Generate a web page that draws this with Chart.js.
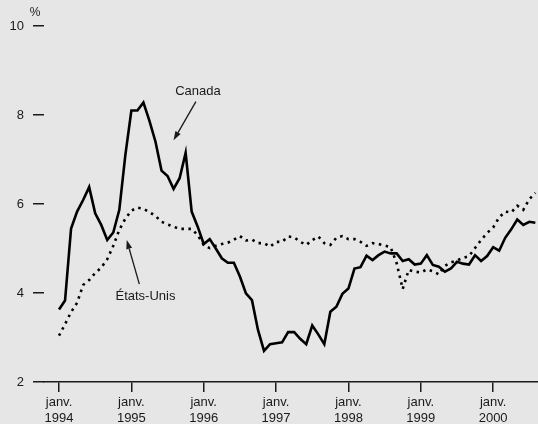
<!DOCTYPE html>
<html>
<head>
<meta charset="utf-8">
<script src="https://cdn.jsdelivr.net/npm/chart.js@4"></script>
<style>
    html, body { margin: 0; padding: 0; background: #e6e6e6; }
    #wrap { width: 538px; height: 424px; }
</style>
</head>
<body>
<div id="wrap"><canvas id="chart" width="538" height="424"></canvas></div>
<script>
// Monthly values, Jan 1994 .. Aug 2000 (%)
const canada = [
    3.63, 3.83, 5.45, 5.83, 6.09, 6.38, 5.79, 5.53, 5.19, 5.36, 5.87, 7.10,
    8.10, 8.10, 8.28, 7.87, 7.40, 6.75, 6.63, 6.34, 6.58, 7.15, 5.83, 5.49,
    5.10, 5.21, 5.00, 4.78, 4.68, 4.68, 4.37, 3.99, 3.84, 3.17, 2.70, 2.85,
    2.87, 2.89, 3.12, 3.12, 2.97, 2.85, 3.27, 3.07, 2.85, 3.58, 3.69, 3.98,
    4.10, 4.55, 4.58, 4.84, 4.74, 4.85, 4.93, 4.89, 4.89, 4.72, 4.76, 4.64,
    4.66, 4.85, 4.63, 4.59, 4.48, 4.55, 4.70, 4.66, 4.64, 4.85, 4.72, 4.83,
    5.03, 4.95, 5.24, 5.43, 5.65, 5.53, 5.60, 5.58
];
const etatsUnis = [
    3.04, 3.30, 3.57, 3.78, 4.18, 4.29, 4.45, 4.57, 4.76, 5.06, 5.42, 5.67,
    5.85, 5.92, 5.89, 5.82, 5.73, 5.60, 5.54, 5.49, 5.44, 5.44, 5.44, 5.30,
    5.08, 5.01, 5.06, 5.10, 5.13, 5.20, 5.28, 5.18, 5.20, 5.12, 5.12, 5.04,
    5.15, 5.15, 5.27, 5.25, 5.15, 5.08, 5.19, 5.27, 5.12, 5.08, 5.24, 5.28,
    5.21, 5.21, 5.15, 5.06, 5.12, 5.10, 5.07, 5.03, 4.67, 4.09, 4.52, 4.48,
    4.46, 4.53, 4.49, 4.42, 4.61, 4.69, 4.73, 4.79, 4.83, 5.01, 5.19, 5.35,
    5.47, 5.70, 5.83, 5.81, 5.96, 5.87, 6.11, 6.25
];
const tickYears = ['1994', '1995', '1996', '1997', '1998', '1999', '2000'];
const tickMonth = 'janv.';
const yTicks = [2, 4, 6, 8, 10];

const INK = '#1a1a1a';
const FONT = "'Liberation Sans', Arial, sans-serif";

Chart.defaults.font.family = FONT;
Chart.defaults.font.size = 13;
Chart.defaults.color = INK;

const toPoints = arr => arr.map((v, i) => ({ x: i, y: v }));

// labels + arrows, placed in data units
const notes = [
    { text: 'Canada', tx: 23.05, ty: 8.54, from: [22.7, 8.30], to: [18.99, 7.43] },
    { text: 'États-Unis', tx: 14.34, ty: 3.93, from: [13.32, 4.20], to: [11.23, 5.19] }
];

const notesPlugin = {
    id: 'notes',
    afterDatasetsDraw(chart) {
        const { ctx, scales: { x, y } } = chart;
        ctx.save();
        ctx.fillStyle = INK;
        ctx.strokeStyle = INK;
        ctx.font = `13px ${FONT}`;
        ctx.textAlign = 'center';
        ctx.textBaseline = 'middle';
        notes.forEach(n => {
            ctx.fillText(n.text, x.getPixelForValue(n.tx), y.getPixelForValue(n.ty));
            const x0 = x.getPixelForValue(n.from[0]), y0 = y.getPixelForValue(n.from[1]);
            const x1 = x.getPixelForValue(n.to[0]), y1 = y.getPixelForValue(n.to[1]);
            const ang = Math.atan2(y1 - y0, x1 - x0);
            const len = 9, half = 3;
            const bx = x1 - len * Math.cos(ang), by = y1 - len * Math.sin(ang);
            ctx.lineWidth = 1.3;
            ctx.beginPath();
            ctx.moveTo(x0, y0);
            ctx.lineTo(bx, by);
            ctx.stroke();
            ctx.beginPath();
            ctx.moveTo(x1, y1);
            ctx.lineTo(bx + half * Math.sin(ang), by - half * Math.cos(ang));
            ctx.lineTo(bx - half * Math.sin(ang), by + half * Math.cos(ang));
            ctx.closePath();
            ctx.fill();
        });
        // unit label above the y axis
        ctx.font = `12px ${FONT}`;
        ctx.fillText('%', 35, 13);
        ctx.restore();
    }
};

new Chart(document.getElementById('chart'), {
    type: 'line',
    data: {
        datasets: [
            {
                label: 'Canada',
                data: toPoints(canada),
                borderColor: '#000',
                borderWidth: 2.6,
                pointRadius: 0,
                tension: 0,
                borderJoinStyle: 'miter'
            },
            {
                label: 'États-Unis',
                data: toPoints(etatsUnis),
                borderColor: '#000',
                borderWidth: 2.6,
                borderDash: [2.5, 4.5],
                pointRadius: 0,
                tension: 0
            }
        ]
    },
    options: {
        responsive: false,
        animation: false,
        layout: { padding: { top: 26, right: 0, bottom: 0, left: 0 } },
        plugins: {
            legend: { display: false },
            tooltip: { enabled: false }
        },
        scales: {
            x: {
                type: 'linear',
                min: -2.49,
                max: 79.44,
                afterFit: s => { s.height = 42; },
                afterBuildTicks: s => { s.ticks = tickYears.map((_, i) => ({ value: i * 12 })); },
                border: { display: true, color: INK, width: 1.5 },
                grid: { drawOnChartArea: false, tickLength: 10, color: INK, lineWidth: 1.5 },
                ticks: {
                    autoSkip: false,
                    maxRotation: 0,
                    padding: 3,
                    font: { size: 13, lineHeight: 1.2 },
                    callback: (v, i) => [tickMonth, tickYears[i]]
                }
            },
            y: {
                min: 2,
                max: 10,
                afterFit: s => { s.width = 44; },
                afterBuildTicks: s => { s.ticks = yTicks.map(v => ({ value: v })); },
                border: { display: false },
                grid: { drawOnChartArea: false, tickLength: 11, color: INK, lineWidth: 1.5 },
                ticks: { padding: 9, font: { size: 13 } }
            }
        }
    },
    plugins: [notesPlugin]
});
</script>
</body>
</html>
